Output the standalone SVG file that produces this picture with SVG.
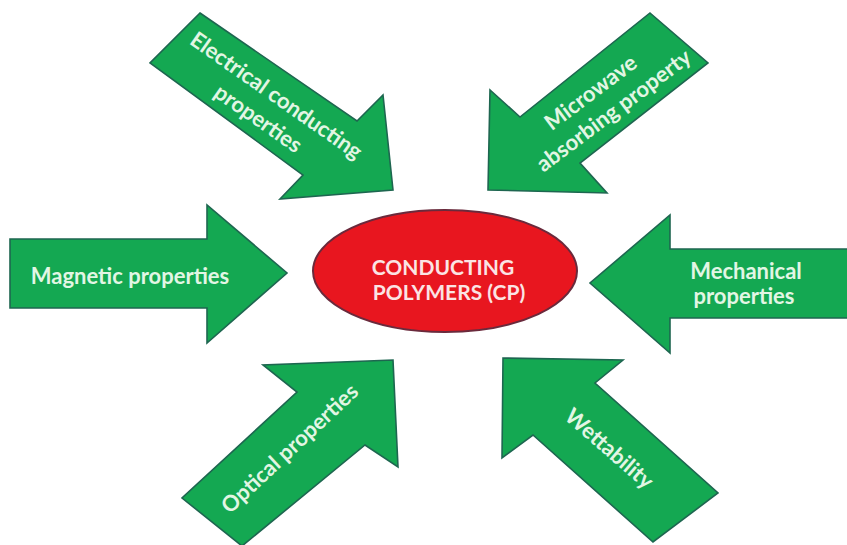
<svg xmlns="http://www.w3.org/2000/svg" width="847" height="545" viewBox="0 0 847 545">
  <style>
    .arrow { fill: #14a852; stroke: #1e6650; stroke-width: 1.6; stroke-linejoin: miter; }
    .lbl { font-family: Lato, "Open Sans", "Liberation Sans", sans-serif; font-weight: bold; font-size: 22px; fill: #e2f6e4; text-anchor: middle; }
    .core { fill: #e8161f; stroke: #6a2a3c; stroke-width: 2; }
    .corelbl { font-family: Lato, "Open Sans", "Liberation Sans", sans-serif; font-weight: bold; font-size: 21px; fill: #fbe4e4; text-anchor: middle; }
  </style>
  <rect width="847" height="545" fill="#ffffff"/>

  <g id="connectors"></g>

  <g id="electrical">
    <polygon class="arrow" points="200,13 357,121 383,95 393,190 280,199 303,175 150,63"/>
    <text class="lbl" transform="translate(276,96) rotate(35)" y="7">Electrical conducting</text>
    <text class="lbl" transform="translate(258,119) rotate(35)" y="7">properties</text>
  </g>

  <g id="microwave">
    <polygon class="arrow" points="650,13 708,63 580,163 607,193 488,190 490,90 520,117"/>
    <text class="lbl" transform="translate(591,93) rotate(-37)" y="7">Microwave</text>
    <text class="lbl" transform="translate(614,111) rotate(-37)" y="7">absorbing property</text>
  </g>

  <g id="magnetic">
    <polygon class="arrow" points="10,239 207,239 207,205 287,273 207,343 207,308 10,308"/>
    <text class="lbl" x="130" y="284">Magnetic properties</text>
  </g>

  <g id="mechanical">
    <polygon class="arrow" points="848,249 670,249 670,215 590,283 670,353 670,318 848,318"/>
    <text class="lbl" x="746" y="279">Mechanical</text>
    <text class="lbl" x="744" y="304">properties</text>
  </g>

  <g id="optical">
    <polygon class="arrow" points="393,360 398,467 365,445 242,546 182,498 297,392 263,365"/>
    <text class="lbl" transform="translate(290,449) rotate(-43)" y="7">Optical properties</text>
  </g>

  <g id="wettability">
    <polygon class="arrow" points="503,358 623,360 595,383 718,493 653,542 533,435 502,458"/>
    <text class="lbl" transform="translate(609,449) rotate(41)" y="7">Wettability</text>
  </g>

  <g id="conducting-polymers">
    <ellipse class="core" cx="445" cy="271" rx="132" ry="61"/>
    <text class="corelbl" x="443" y="275">CONDUCTING</text>
    <text class="corelbl" x="449" y="300">POLYMERS (CP)</text>
  </g>
</svg>
